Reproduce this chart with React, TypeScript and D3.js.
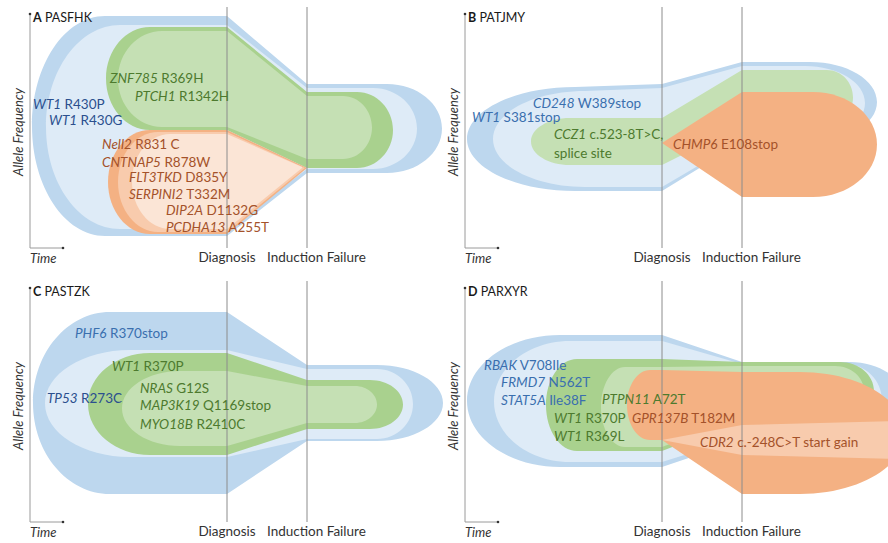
import React from "react";
import * as d3 from "d3";

type Knot = [number, number, number]; // [time, upper edge, lower edge]
type Label = [string, string, number, number, string]; // gene, change, time, position, clone colour key

// ---- time points (time units measured from the axis origin) ----
const timepointLabels = ["Diagnosis", "Induction Failure"];
const timepointTimes = [197, 277];

// ---- Panel A : PASFHK ----
const A_wt1: Knot[] = [[75, 16, 236], [197, 16, 236], [277, 84, 173], [357, 84, 173]];
const A_wt1Caps = [2, 412];
const A_wt1In: Knot[] = [[90, 25, 229], [197, 25, 229], [277, 88, 169], [343, 88, 169]];
const A_wt1InCaps = [16, 387];
const A_znf: Knot[] = [[120, 27, 130], [197, 27, 130], [277, 92, 168], [327, 92, 168]];
const A_znfCaps = [76, 363];
const A_znfIn: Knot[] = [[132, 31, 127], [197, 31, 127], [277, 96, 159], [313, 96, 159]];
const A_znfInCaps = [88, 342];
const A_nell: Knot[] = [[120, 130, 234], [197, 130, 234], [277, 168, 168]];
const A_nellCaps = [78, null];
const A_nellMid: Knot[] = [[128, 132, 232], [197, 132, 232], [275, 168, 168]];
const A_nellMidCaps = [88, null];
const A_nellIn: Knot[] = [[140, 134, 229], [197, 134, 229], [272, 167, 168]];
const A_nellInCaps = [102, null];
const A_labels: Label[] = [
  ["ZNF785", "R369H", 80, 78, "green"],
  ["PTCH1", "R1342H", 105, 96, "green"],
  ["WT1", "R430P", 3, 104, "navy"],
  ["WT1", "R430G", 19, 120, "navy"],
  ["Nell2", "R831 C", 72, 144, "orange"],
  ["CNTNAP5", "R878W", 72, 162, "orange"],
  ["FLT3TKD", "D835Y", 99, 177, "orange"],
  ["SERPINI2", "T332M", 99, 194, "orange"],
  ["DIP2A", "D1132G", 136, 210, "orange"],
  ["PCDHA13", "A255T", 136, 227, "orange"],
];

// ---- Panel B : PATJMY ----
const B_wt1: Knot[] = [[110, 87, 191], [197, 84, 191], [277, 62, 142], [345, 62, 142]];
const B_wt1Caps = [2, 412];
const B_wt1In: Knot[] = [[120, 91, 187], [197, 88, 187], [277, 66, 140], [340, 66, 140]];
const B_wt1InCaps = [28, 400];
const B_ccz1: Knot[] = [[105, 118, 165], [197, 118, 165], [277, 70, 125], [362, 70, 125]];
const B_ccz1Caps = [66, 388];
const B_chmp6: Knot[] = [[197, 143, 143], [277, 92, 197], [348, 92, 197]];
const B_chmp6Caps = [null, 412];
const B_labels: Label[] = [
  ["CD248", "W389stop", 68, 103, "blue"],
  ["WT1", "S381stop", 7, 117, "blue"],
  ["CCZ1", "c.523-8T>C,", 89, 134, "green"],
  ["", "splice site", 89, 153, "green"],
  ["CHMP6", "E108stop", 208, 144, "orange"],
];

// ---- Panel C : PASTZK ----
const C_phf6: Knot[] = [[80, 38, 220], [197, 38, 220], [277, 91, 167], [347, 91, 167]];
const C_phf6Caps = [3, 413];
const C_tp53: Knot[] = [[100, 76, 183], [197, 76, 183], [277, 95, 165], [347, 95, 165]];
const C_tp53Caps = [15, 383];
const C_wt1: Knot[] = [[120, 79, 181], [197, 79, 181], [277, 106, 155], [340, 106, 155]];
const C_wt1Caps = [58, 373];
const C_nras: Knot[] = [[150, 97, 172], [197, 97, 172], [277, 112, 149], [325, 112, 149]];
const C_nrasCaps = [92, 347];
const C_labels: Label[] = [
  ["PHF6", "R370stop", 45, 59, "blue"],
  ["WT1", "R370P", 82, 92, "green"],
  ["TP53", "R273C", 17, 124, "navy"],
  ["NRAS", "G12S", 110, 114, "green"],
  ["MAP3K19", "Q1169stop", 110, 131, "green"],
  ["MYO18B", "R2410C", 110, 150, "green"],
];

// ---- Panel D : PARXYR ----
const D_rbak: Knot[] = [[95, 61, 193], [197, 61, 193], [277, 88, 166], [385, 88, 166]];
const D_rbakCaps = [2, 440];
const D_rbakIn: Knot[] = [[105, 67, 188], [197, 67, 188], [277, 90, 163], [380, 90, 163]];
const D_rbakInCaps = [29, 417];
const D_wt1: Knot[] = [[112, 85, 177], [197, 85, 177], [277, 88, 146], [375, 88, 146]];
const D_wt1Caps = [81, 409];
const D_ptpn: Knot[] = [[160, 93, 173], [197, 93, 173], [277, 92, 142], [370, 92, 142]];
const D_ptpnCaps = [136, 399];
const D_gpr: Knot[] = [[185, 96, 166], [197, 96, 166], [277, 98, 220], [335, 98, 220]];
const D_gprCaps = [162, 440];
const D_cdr2: Knot[] = [[197, 166, 166], [277, 151, 181], [430, 147, 185]];
const D_cdr2Caps = [null, 460];
const D_labels: Label[] = [
  ["RBAK", "V708Ile", 19, 91, "blue"],
  ["FRMD7", "N562T", 36, 108, "blue"],
  ["STAT5A", "Ile38F", 36, 126, "blue"],
  ["PTPN11", "A72T", 137, 125, "green"],
  ["WT1", "R370P", 89, 144, "green"],
  ["GPR137B", "T182M", 167, 144, "orange"],
  ["WT1", "R369L", 89, 162, "green"],
  ["CDR2", "c.-248C>T start gain", 235, 168, "orange"],
];

// ---- styles ----
const FILL: Record<string, string> = {
  blue: "#bdd7ee",
  blueLight: "#deebf7",
  green: "#a9d18e",
  greenLight: "#c5e0b4",
  orange: "#f4b183",
  orangeMid: "#f8cbad",
  orangeLight: "#fbe5d6",
};
const TEXT: Record<string, string> = {
  navy: "#2b4f8e",
  blue: "#3a6fae",
  green: "#4d7a2e",
  orange: "#a4522a",
};
const FONT = "Lato, 'Open Sans', sans-serif";

type Clone = { knots: Knot[]; caps: (number | null)[]; fill: string };
type Panel = {
  letter: string;
  name: string;
  left: number;
  top: number;
  clones: Clone[];
  labels: Label[];
};

const panels: Panel[] = [
  {
    letter: "A", name: "PASFHK", left: 30, top: 0, labels: A_labels,
    clones: [
      { knots: A_wt1, caps: A_wt1Caps, fill: FILL.blue },
      { knots: A_wt1In, caps: A_wt1InCaps, fill: FILL.blueLight },
      { knots: A_znf, caps: A_znfCaps, fill: FILL.green },
      { knots: A_znfIn, caps: A_znfInCaps, fill: FILL.greenLight },
      { knots: A_nell, caps: A_nellCaps, fill: FILL.orange },
      { knots: A_nellMid, caps: A_nellMidCaps, fill: FILL.orangeMid },
      { knots: A_nellIn, caps: A_nellInCaps, fill: FILL.orangeLight },
    ],
  },
  {
    letter: "B", name: "PATJMY", left: 465, top: 0, labels: B_labels,
    clones: [
      { knots: B_wt1, caps: B_wt1Caps, fill: FILL.blue },
      { knots: B_wt1In, caps: B_wt1InCaps, fill: FILL.blueLight },
      { knots: B_ccz1, caps: B_ccz1Caps, fill: FILL.greenLight },
      { knots: B_chmp6, caps: B_chmp6Caps, fill: FILL.orange },
    ],
  },
  {
    letter: "C", name: "PASTZK", left: 30, top: 274, labels: C_labels,
    clones: [
      { knots: C_phf6, caps: C_phf6Caps, fill: FILL.blue },
      { knots: C_tp53, caps: C_tp53Caps, fill: FILL.blueLight },
      { knots: C_wt1, caps: C_wt1Caps, fill: FILL.green },
      { knots: C_nras, caps: C_nrasCaps, fill: FILL.greenLight },
    ],
  },
  {
    letter: "D", name: "PARXYR", left: 465, top: 274, labels: D_labels,
    clones: [
      { knots: D_rbak, caps: D_rbakCaps, fill: FILL.blue },
      { knots: D_rbakIn, caps: D_rbakInCaps, fill: FILL.blueLight },
      { knots: D_wt1, caps: D_wt1Caps, fill: FILL.green },
      { knots: D_ptpn, caps: D_ptpnCaps, fill: FILL.greenLight },
      { knots: D_gpr, caps: D_gprCaps, fill: FILL.orange },
      { knots: D_cdr2, caps: D_cdr2Caps, fill: FILL.orangeMid },
    ],
  },
];

function clonePath(
  knots: Knot[],
  caps: (number | null)[],
  x: d3.ScaleLinear<number, number>,
  y: d3.ScaleLinear<number, number>
): string {
  const k = 0.5523;
  const p = d3.path();
  const first = knots[0];
  const last = knots[knots.length - 1];
  p.moveTo(x(first[0]), y(first[1]));
  for (let i = 1; i < knots.length; i++) p.lineTo(x(knots[i][0]), y(knots[i][1]));
  const xn = x(last[0]);
  const tn = y(last[1]);
  const bn = y(last[2]);
  const end = caps[1];
  if (end != null) {
    const xe = x(end);
    const mn = (tn + bn) / 2;
    const rx = xe - xn;
    const ry = (bn - tn) / 2;
    p.bezierCurveTo(xn + k * rx, tn, xe, mn - k * ry, xe, mn);
    p.bezierCurveTo(xe, mn + k * ry, xn + k * rx, bn, xn, bn);
  } else {
    p.lineTo(xn, bn);
  }
  for (let i = knots.length - 2; i >= 0; i--) p.lineTo(x(knots[i][0]), y(knots[i][2]));
  const start = caps[0];
  if (start != null) {
    const x0 = x(first[0]);
    const t0 = y(first[1]);
    const b0 = y(first[2]);
    const xs = x(start);
    const m0 = (t0 + b0) / 2;
    const rx = x0 - xs;
    const ry = (b0 - t0) / 2;
    p.bezierCurveTo(x0 - k * rx, b0, xs, m0 + k * ry, xs, m0);
    p.bezierCurveTo(xs, m0 - k * ry, x0 - k * rx, t0, x0, t0);
  }
  p.closePath();
  return p.toString();
}

function PanelView({ panel }: { panel: Panel }) {
  const x = d3.scaleLinear().domain([0, 400]).range([panel.left, panel.left + 400]);
  const y = d3.scaleLinear().domain([0, 250]).range([panel.top, panel.top + 250]);
  const axisTop = y(14);
  const axisBottom = y(248);
  return (
    <g>
      {panel.clones.map((c, i) => (
        <path key={i} d={clonePath(c.knots, c.caps, x, y)} fill={c.fill} />
      ))}
      {timepointTimes.map((t, i) => (
        <line key={i} x1={x(t)} x2={x(t)} y1={y(7)} y2={y(248)} stroke="#8c8c8c" strokeWidth={1} />
      ))}
      {/* axes */}
      <line x1={x(0)} x2={x(0)} y1={axisTop} y2={axisBottom} stroke="#9a9a9a" strokeWidth={1} />
      <line x1={x(0)} x2={x(33)} y1={axisBottom} y2={axisBottom} stroke="#9a9a9a" strokeWidth={1} />
      <circle cx={x(0)} cy={axisTop} r={1.3} fill="#333" />
      <circle cx={x(33)} cy={axisBottom} r={1.3} fill="#333" />
      <text x={x(3)} y={y(18)} dy="0.35em" fontFamily={FONT} fontSize={12.5} fill="#1a1a1a">
        <tspan fontWeight="bold">{panel.letter}</tspan>
        <tspan> {panel.name}</tspan>
      </text>
      <text
        transform={`translate(${x(-12)},${y(132)}) rotate(-90)`}
        textAnchor="middle"
        dy="0.35em"
        fontFamily={FONT}
        fontSize={13}
        fontStyle="italic"
        fill="#333"
      >
        Allele Frequency
      </text>
      <text x={x(0)} y={y(258)} dy="0.35em" fontFamily={FONT} fontSize={13} fontStyle="italic" fill="#333">
        Time
      </text>
      <text x={x(timepointTimes[0])} y={y(257)} dy="0.35em" textAnchor="middle" fontFamily={FONT} fontSize={13.5} fill="#333">
        {timepointLabels[0]}
      </text>
      <text x={x(timepointTimes[1] - 40)} y={y(257)} dy="0.35em" fontFamily={FONT} fontSize={13.5} fill="#333">
        {timepointLabels[1]}
      </text>
      {panel.labels.map((l, i) => (
        <text key={i} x={x(l[2])} y={y(l[3])} dy="0.35em" fontFamily={FONT} fontSize={13.5} fill={TEXT[l[4]]}>
          {l[0] ? <tspan fontStyle="italic">{l[0]}</tspan> : null}
          <tspan>{(l[0] ? " " : "") + l[1]}</tspan>
        </text>
      ))}
    </g>
  );
}

export default function App() {
  return (
    <svg
      width={888}
      height={543}
      viewBox="0 0 888 543"
      style={{ position: "absolute", left: 0, top: 0, background: "#fff" }}
    >
      <rect width={888} height={543} fill="#fff" />
      {panels.map((p) => (
        <PanelView key={p.letter} panel={p} />
      ))}
    </svg>
  );
}
